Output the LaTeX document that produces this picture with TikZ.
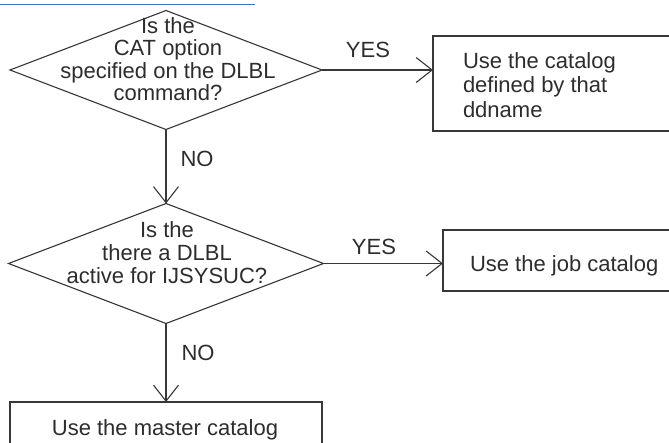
\documentclass[tikz,border=0pt]{standalone}
\usepackage{fontspec}
\setmainfont{Liberation Sans}
\usetikzlibrary{shapes.geometric,arrows.meta}
\definecolor{lc}{RGB}{55,55,55}
\definecolor{tc}{RGB}{45,45,45}
\definecolor{linkblue}{RGB}{68,114,196}
\begin{document}
\begin{tikzpicture}[x=1pt,y=-1pt,
  ln/.style={line width=1.1pt, draw=lc},
  dia/.style={shape=diamond, ln, inner sep=0pt, outer sep=0pt},
  box/.style={shape=rectangle, inner sep=0pt, outer sep=0pt, anchor=north west},
  txt/.style={text=tc, inner sep=0pt, outer sep=0pt, font=\fontsize{22pt}{22.3pt}\selectfont},
  flow/.style={ln, -{Straight Barb[length=16pt,width=25pt]}}
]
\path[use as bounding box, clip] (0,0) rectangle (669,443);
\fill[white] (0,0) rectangle (669,443);
% cut-off link underline at the top
\draw[linkblue, line width=1pt] (0,4.5) -- (255,4.5);

% decisions
\node[dia, minimum width=312pt, minimum height=119pt] (d1) at (166,70) {};
\node[txt, align=center, anchor=north] (t1) at (168,17.5)
  {Is the\\CAT option\\specified on the DLBL\\command?};
\node[dia, minimum width=315pt, minimum height=120pt] (d2) at (166,263.5) {};
\node[txt, align=center, anchor=north, font=\fontsize{22pt}{23pt}\selectfont] (t2) at (167,221.5)
  {Is the\\there a DLBL\\active for IJSYSUC?};

% result boxes (they run past the right / bottom edge of the picture)
\node[box, minimum width=300pt, minimum height=95pt] (b1) at (433,36) {};
\draw[ln] (b1.north east) -- (b1.north west) -- (b1.south west) -- (b1.south east);
\node[txt, align=left, anchor=north west, font=\fontsize{22pt}{24.5pt}\selectfont] (t3) at (463,52.5)
  {Use the catalog\\defined by that\\ddname};
\node[box, minimum width=300pt, minimum height=61pt] (b2) at (443,230) {};
\draw[ln] (b2.north east) -- (b2.north west) -- (b2.south west) -- (b2.south east);
\node[txt, anchor=base west] (t4) at (470,272) {Use the job catalog};
\node[box, minimum width=312pt, minimum height=80pt] (b3) at (10,402) {};
\draw[ln] (b3.south west) -- (b3.north west) -- (b3.north east) -- (b3.south east);
\node[txt, anchor=base] (t5) at (165,435) {Use the master catalog};

% connectors
\draw[flow] (d1.east) -- (d1.east -| b1.west);
\draw[flow] (d1.south) -- (d2.north);
\draw[flow] (d2.east) -- (d2.east -| b2.west);
\draw[flow] (d2.south) -- (b3.north);

% labels
\node[txt, anchor=base] (y1) at (368,58) {YES};
\node[txt, anchor=base] (n1) at (197,167) {NO};
\node[txt, anchor=base] (y2) at (374,255) {YES};
\node[txt, anchor=base] (n2) at (198,360) {NO};
\end{tikzpicture}
\end{document}
